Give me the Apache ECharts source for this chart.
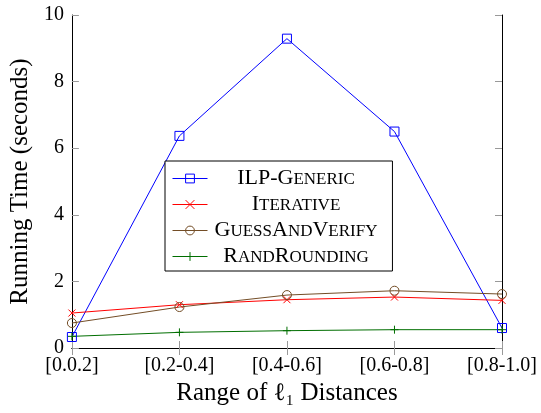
<!DOCTYPE html>
<html>
<head>
<meta charset="utf-8">
<script src="https://cdn.jsdelivr.net/npm/echarts@6/dist/echarts.min.js"></script>
<style>
html,body{margin:0;padding:0;background:#fff;}
#chart{width:541px;height:413px;}
</style>
</head>
<body>
<div id="chart"></div>
<script>
const categories = ['[0.0.2]', '[0.2-0.4]', '[0.4-0.6]', '[0.6-0.8]', '[0.8-1.0]'];
const seriesNames = ['ILP-Generic', 'Iterative', 'GuessAndVerify', 'RandRounding'];
const ilpGeneric = [0.33, 6.37, 9.29, 6.5, 0.6];
const iterative = [1.05, 1.3, 1.45, 1.53, 1.43];
const guessAndVerify = [0.75, 1.23, 1.59, 1.72, 1.62];
const randRounding = [0.35, 0.47, 0.52, 0.55, 0.55];
const yTicks = [0, 2, 4, 6, 8, 10];
const xTitle = 'Range of ℓ₁ Distances';
const yTitle = 'Running Time (seconds)';

const FONT = '"Liberation Serif", "DejaVu Serif", serif';
const colors = ['#0000ff', '#ff0000', '#734d26', '#006e00'];
const symbols = [
  'rect',
  'path://M0,0L10,10M10,0L0,10',
  'circle',
  'path://M5,0L5,10M0,5L10,5'
];
const sizes = [9, 7, 9, 8];
const values = [ilpGeneric, iterative, guessAndVerify, randRounding];

function smallCaps(name) {
  let out = '';
  let cur = null, buf = '';
  for (const ch of name) {
    const isLower = ch !== ch.toUpperCase();
    const t = isLower ? 'b' : 'a';
    if (t !== cur) {
      if (buf) out += '{' + cur + '|' + buf + '}';
      buf = '';
      cur = t;
    }
    buf += ch.toUpperCase();
  }
  if (buf) out += '{' + cur + '|' + buf + '}';
  return out;
}

const series = seriesNames.map((n, i) => ({
  name: n,
  type: 'line',
  data: values[i],
  symbol: symbols[i],
  symbolSize: sizes[i],
  showAllSymbol: true,
  lineStyle: { color: colors[i], width: 1 },
  itemStyle: { color: 'rgba(0,0,0,0)', borderColor: colors[i], borderWidth: 1 },
  emphasis: { disabled: true },
  animation: false
}));

const chart = echarts.init(document.getElementById('chart'), null, { renderer: 'canvas' });
chart.setOption({
  animation: false,
  backgroundColor: '#fff',
  grid: { left: 63, right: 39, top: 15, bottom: 65, containLabel: false },
  legend: {
    orient: 'vertical',
    left: 165,
    top: 161,
    padding: [6, 15, 4, 7],
    itemGap: 4,
    itemWidth: 35,
    itemHeight: 11,
    itemTextGap: 4,
    borderColor: '#000',
    borderWidth: 1,
    backgroundColor: '#fff',
    lineStyle: { width: 1 },
    itemStyle: { borderWidth: 1 },
    data: seriesNames,
    formatter: smallCaps,
    textStyle: {
      width: 167,
      color: '#000',
      fontFamily: FONT,
      rich: {
        a: { fontSize: 22, fontFamily: FONT, color: '#000', align: 'center', verticalAlign: 'bottom', lineHeight: 21 },
        b: { fontSize: 17, fontFamily: FONT, color: '#000', align: 'center', verticalAlign: 'bottom', lineHeight: 16, padding: [0, 0, 1, 0] }
      }
    }
  },
  xAxis: [{
    type: 'category',
    data: categories,
    boundaryGap: false,
    name: xTitle,
    nameLocation: 'middle',
    nameGap: 33,
    nameTextStyle: { fontSize: 25, fontFamily: FONT, color: '#000' },
    axisLine: { lineStyle: { color: '#000', width: 1 } },
    axisTick: { inside: true, length: 7, lineStyle: { color: '#999' } },
    axisLabel: { fontSize: 20, fontFamily: FONT, color: '#000', margin: 8 },
    splitLine: { show: false }
  }, {
    type: 'category',
    data: categories,
    boundaryGap: false,
    position: 'top',
    axisLine: { lineStyle: { color: '#000', width: 1 } },
    axisTick: { inside: true, length: 7, lineStyle: { color: '#999' } },
    axisLabel: { show: false },
    splitLine: { show: false }
  }],
  yAxis: [{
    type: 'value',
    min: yTicks[0],
    max: yTicks[yTicks.length - 1],
    interval: yTicks[1] - yTicks[0],
    name: yTitle,
    nameLocation: 'middle',
    nameGap: 30,
    nameTextStyle: { fontSize: 25, fontFamily: FONT, color: '#000' },
    axisLine: { show: true, lineStyle: { color: '#000', width: 1 } },
    axisTick: { show: true, inside: true, length: 7, lineStyle: { color: '#999' } },
    axisLabel: { fontSize: 20, fontFamily: FONT, color: '#000', margin: 8 },
    splitLine: { show: false }
  }, {
    type: 'value',
    min: yTicks[0],
    max: yTicks[yTicks.length - 1],
    interval: yTicks[1] - yTicks[0],
    position: 'right',
    axisLine: { show: true, lineStyle: { color: '#000', width: 1 } },
    axisTick: { show: true, inside: true, length: 7, lineStyle: { color: '#999' } },
    axisLabel: { show: false },
    splitLine: { show: false }
  }],
  series: series
});
</script>
</body>
</html>
